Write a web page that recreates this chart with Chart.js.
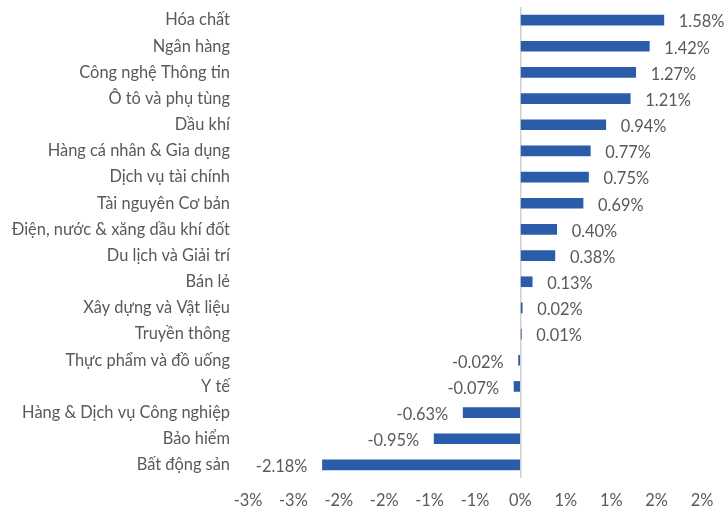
<!DOCTYPE html>
<html>
<head>
<meta charset="utf-8">
<script src="https://cdn.jsdelivr.net/npm/chart.js@4"></script>
<style>
  html, body { margin: 0; padding: 0; background: #fff; overflow: hidden; }
  #wrap { width: 727px; height: 510px; }
</style>
</head>
<body>
<div id="wrap"><canvas id="barChart"></canvas></div>
<script>
// ngành (trên xuống dưới)
const sectors = [
    "Hóa chất", "Ngân hàng", "Công nghệ Thông tin", "Ô tô và phụ tùng", "Dầu khí",
    "Hàng cá nhân & Gia dụng", "Dịch vụ tài chính", "Tài nguyên Cơ bản",
    "Điện, nước & xăng dầu khí đốt", "Du lịch và Giải trí", "Bán lẻ",
    "Xây dựng và Vật liệu", "Truyền thông", "Thực phẩm và đồ uống", "Y tế",
    "Hàng & Dịch vụ Công nghiệp", "Bảo hiểm", "Bất động sản"
];
// thay đổi (%)
const changes = [
    1.58, 1.42, 1.27, 1.21, 0.94,
    0.77, 0.75, 0.69,
    0.40, 0.38, 0.13,
    0.02, 0.01, -0.02, -0.07,
    -0.63, -0.95, -2.18
];

const FONT = "Lato, 'Noto Sans', sans-serif";
const TEXT = "#595959";
const SIZE = 16.4;

// nhãn giá trị cạnh cột
const valueLabels = {
    id: "valueLabels",
    afterDatasetsDraw(chart) {
        const { ctx } = chart;
        const meta = chart.getDatasetMeta(0);
        ctx.save();
        ctx.font = SIZE + "px " + FONT;
        ctx.fillStyle = TEXT;
        ctx.textBaseline = "middle";
        meta.data.forEach((bar, i) => {
            const v = changes[i];
            const txt = v.toFixed(2) + "%";
            if (v >= 0) {
                ctx.textAlign = "left";
                ctx.fillText(txt, bar.x + 15, bar.y + 2);
            } else {
                ctx.textAlign = "right";
                ctx.fillText(txt, bar.x - 15, bar.y + 2);
            }
        });
        ctx.restore();
    }
};

const ctx = document.getElementById("barChart").getContext("2d");
new Chart(ctx, {
    type: "bar",
    data: {
        labels: sectors,
        datasets: [{
            data: changes,
            backgroundColor: "#2B5CAA",
            barThickness: 10
        }]
    },
    options: {
        indexAxis: "y",
        responsive: true,
        maintainAspectRatio: false,
        animation: false,
        layout: { padding: { top: 7, right: 25, bottom: 0, left: 0 } },
        plugins: {
            legend: { display: false },
            tooltip: { enabled: false }
        },
        scales: {
            x: {
                min: -3,
                max: 2,
                afterFit: (scale) => { scale.height = 32; },
                ticks: {
                    stepSize: 0.5,
                    padding: 13,
                    maxRotation: 0,
                    color: TEXT,
                    font: { family: FONT, size: SIZE },
                    callback: (v) => Math.sign(v) * Math.round(Math.abs(v)) + "%"
                },
                grid: {
                    drawTicks: false,
                    lineWidth: 1.5,
                    color: (c) => (c.tick && c.tick.value === 0 ? "#D0D0D0" : "rgba(0,0,0,0)")
                },
                border: { display: false }
            },
            y: {
                afterFit: (scale) => {
                    scale.width = 248;
                    scale.paddingTop = 0;
                    scale.paddingBottom = 0;
                },
                ticks: {
                    padding: 18,
                    autoSkip: false,
                    color: TEXT,
                    font: { family: FONT, size: SIZE }
                },
                grid: { display: false, drawTicks: false },
                border: { display: false }
            }
        }
    },
    plugins: [valueLabels]
});
</script>
</body>
</html>
